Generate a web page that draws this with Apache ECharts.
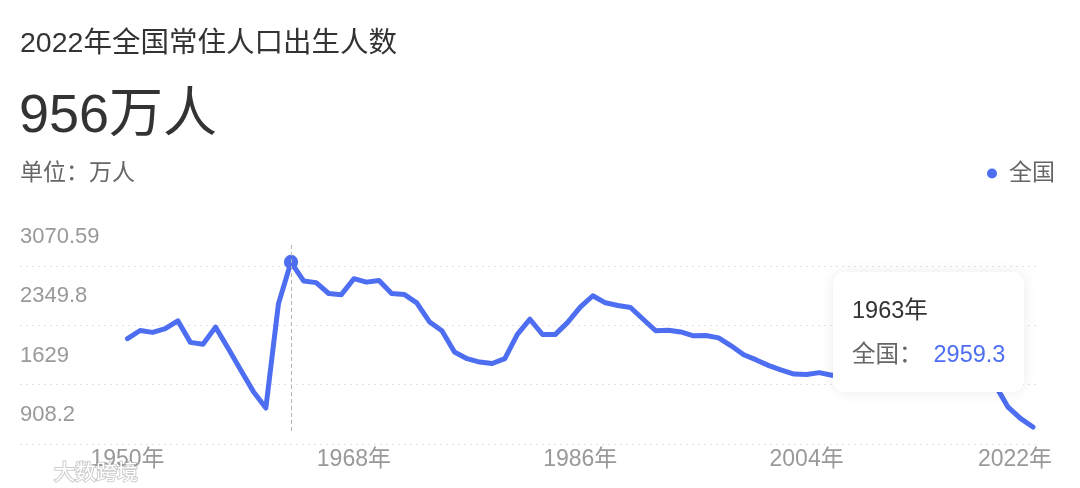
<!DOCTYPE html>
<html><head><meta charset="utf-8">
<script src="https://cdn.jsdelivr.net/npm/echarts@6/dist/echarts.min.js"></script>
<style>html,body{margin:0;padding:0;background:#fff}#c{width:1080px;height:488px}</style>
</head><body><div id="c"></div>
<script>
const years = [1950,1951,1952,1953,1954,1955,1956,1957,1958,1959,
  1960,1961,1962,1963,1964,1965,1966,1967,1968,1969,
  1970,1971,1972,1973,1974,1975,1976,1977,1978,1979,
  1980,1981,1982,1983,1984,1985,1986,1987,1988,1989,
  1990,1991,1992,1993,1994,1995,1996,1997,1998,1999,
  2000,2001,2002,2003,2004,2005,2006,2007,2008,2009,
  2010,2011,2012,2013,2014,2015,2016,2017,2018,2019,
  2020,2021,2022];
const births = [2030,2128,2105,2151,2245,1984,1961,2169,1913,1650,
  1389,1187,2451,2959.3,2729,2709,2577,2563,2757,2715,
  2736,2578,2566,2463,2235,2126,1866,1786,1745,1727,
  1787,2082,2265,2079,2078,2227,2411,2550,2464,2432,
  2407,2265,2125,2132,2110,2063,2067,2038,1942,1834,
  1771,1702,1647,1599,1593,1617,1585,1595,1608,1591,
  1592,1785,1973,1776,1897,1655,1883,1765,1523,1465,
  1202,1062,956];
const seriesName = '全国';
const yTicks = [908.2, 1629, 2349.8, 3070.59];
const xTicks = [1950, 1968, 1986, 2004, 2022];
const highlightYear = 1963;
const titleText = '2022年全国常住人口出生人数';
const bigText = '956万人';
const unitText = '单位：万人';
const watermark = '大数跨境';

const FONT = 'Arial, "Liberation Sans", "Noto Sans CJK SC", sans-serif';
const BLUE = '#4e6ef2';
const hlIndex = years.indexOf(highlightYear);
const points = years.map((y, i) => [y, births[i]]);
const lastX = xTicks[xTicks.length - 1];

const chart = echarts.init(document.getElementById('c'), null, {renderer: 'canvas'});
const option = {
  animation: false,
  backgroundColor: '#fff',
  textStyle: {fontFamily: FONT},
  title: [
    {text: titleText, left: 20, top: 30, padding: 0,
     textStyle: {fontSize: 28.5, color: '#333', fontWeight: 'normal', fontFamily: FONT}},
    {text: bigText, left: 19, top: 90, padding: 0,
     textStyle: {fontSize: 54, color: '#333', fontWeight: 'normal', fontFamily: FONT}},
    {text: unitText, left: 20, top: 162, padding: 0,
     textStyle: {fontSize: 23, color: '#666', fontWeight: 'normal', fontFamily: FONT}}
  ],
  legend: {
    data: [seriesName], right: 25, top: 162, padding: 0, icon: 'circle',
    itemWidth: 10, itemHeight: 10,
    textStyle: {fontSize: 23, color: '#666', fontFamily: FONT, padding: [0, 0, 0, 7]}
  },
  grid: [
    {left: 20, right: 43, top: 243, bottom: 57},
    {left: 20, right: 43, top: 266, bottom: 44}
  ],
  xAxis: [
    {type: 'value', gridIndex: 0, min: 1941.45, max: 2022.32,
     axisLine: {show: false}, axisTick: {show: false}, splitLine: {show: false},
     axisLabel: {customValues: xTicks, margin: 17, fontSize: 23, color: '#999', fontFamily: FONT,
       formatter: v => v === lastX ? '{r|' + v + '年}' : v + '年',
       rich: {r: {fontSize: 23, color: '#999', fontFamily: FONT, padding: [0, 36, 0, 0]}}}},
    {type: 'value', gridIndex: 1, min: 1941.45, max: 2022.32, show: false,
     axisPointer: {show: false}}
  ],
  yAxis: [
    {type: 'value', gridIndex: 0, min: yTicks[0], max: 3190,
     axisLine: {show: false}, axisTick: {show: false}, splitLine: {show: false},
     axisPointer: {show: false},
     axisLabel: {inside: true, customValues: yTicks, formatter: v => String(v),
       verticalAlign: 'bottom', margin: 0, padding: [0, 0, 5, 0],
       fontSize: 22, color: '#999', fontFamily: FONT}},
    {type: 'value', gridIndex: 1, min: 0, max: yTicks.length - 1, interval: 1,
     axisLine: {show: false}, axisTick: {show: false}, axisLabel: {show: false},
     axisPointer: {show: false},
     splitLine: {show: true, lineStyle: {type: [2, 4], color: '#e3e3e3', width: 1}}}
  ],
  tooltip: {
    trigger: 'axis', triggerOn: 'none', alwaysShowContent: true,
    axisPointer: {type: 'line', snap: true, label: {show: false},
      lineStyle: {color: '#b5b5b5', type: [4, 3], width: 1}},
    position: [833, 272],
    backgroundColor: '#fff', borderWidth: 0, borderRadius: 12,
    padding: [26, 19, 26, 19],
    extraCssText: 'box-shadow:0 0 14px rgba(0,0,0,0.08);',
    formatter: params => {
      const p = params[0];
      const ff = FONT.replace(/"/g, "'");
      return '<div style="font-family:' + ff + ';font-size:23.5px;line-height:24px;color:#333">' + p.value[0] + '年</div>' +
        '<div style="font-family:' + ff + ';margin-top:20px;font-size:23.5px;line-height:24px;color:#666;white-space:nowrap">' +
        p.seriesName + '：<span style="margin-left:11px;color:' + BLUE + '">' + p.value[1] + '</span></div>';
    }
  },
  graphic: [
    {type: 'text', left: 53, top: 462, silent: true, z: 100,
     style: {text: watermark, fontSize: 21, fontFamily: FONT, fill: '#ffffff',
       stroke: 'rgba(130,130,130,0.4)', lineWidth: 2, strokeFirst: true}}
  ],
  series: [{
    name: seriesName, type: 'line', xAxisIndex: 0, yAxisIndex: 0,
    data: points, clip: false,
    symbol: (v, p) => p.dataIndex === hlIndex ? 'circle' : 'none',
    symbolSize: 13,
    lineStyle: {width: 5, color: BLUE, join: 'round', cap: 'round'},
    itemStyle: {color: BLUE},
    emphasis: {disabled: true}
  }]
};
chart.setOption(option);
chart.dispatchAction({type: 'showTip', seriesIndex: 0, dataIndex: hlIndex});
</script>
</body></html>
